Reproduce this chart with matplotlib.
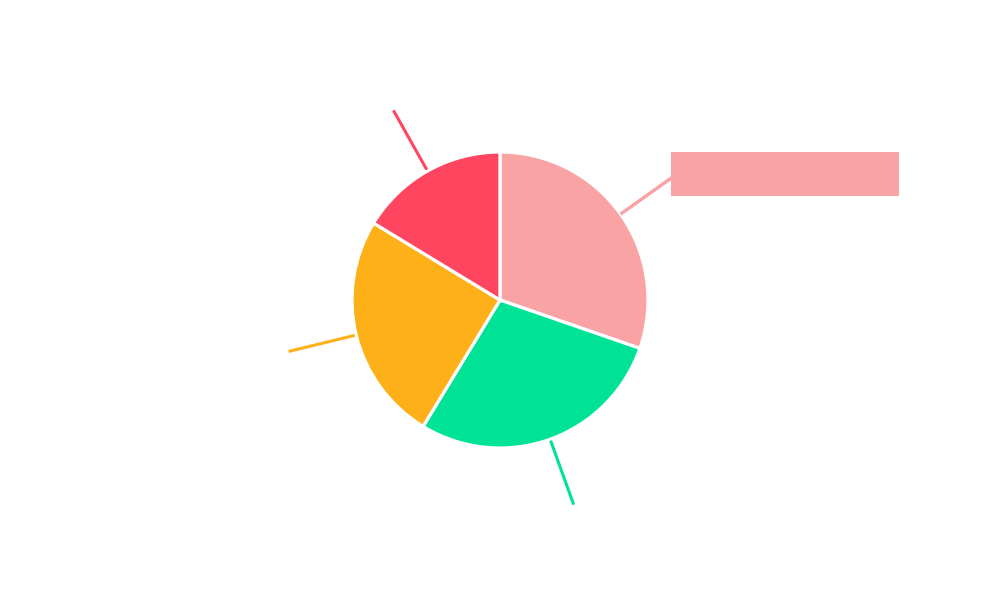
import numpy as np
import matplotlib.pyplot as plt
from matplotlib.patches import Rectangle

# slice shares (clockwise from 12 o'clock)
labels = ["A", "B", "C", "D"]
values = [30.3, 28.4, 25.0, 16.3]
colors = ["#F9A3A4", "#00E396", "#FEB019", "#FF4560"]

fig = plt.figure(figsize=(10, 6), dpi=100)
ax = fig.add_axes([0, 0, 1, 1])
R = 148.0  # radius in pixels
ax.set_xlim(-500 / R, 500 / R)
ax.set_ylim(-300 / R, 300 / R)
ax.set_aspect("equal")
ax.axis("off")

wedges, _ = ax.pie(values, colors=colors, startangle=90, counterclock=False,
                   radius=1.0, wedgeprops=dict(edgecolor="white", linewidth=2.3))
ax.set_xlim(-500 / R, 500 / R)
ax.set_ylim(-300 / R, 300 / R)

# radial leader lines from each slice middle
for w, c in zip(wedges, colors):
    mid = np.deg2rad((w.theta1 + w.theta2) / 2)
    x0, y0 = 1.01 * np.cos(mid), 1.01 * np.sin(mid)
    x1, y1 = 1.47 * np.cos(mid), 1.47 * np.sin(mid)
    ax.plot([x0, x1], [y0, y1], color=c, lw=2.2, solid_capstyle="butt")

# highlighted label box for the first slice (text empty in reference)
w = wedges[0]
mid = np.deg2rad((w.theta1 + w.theta2) / 2)
ex, ey = 1.42 * np.cos(mid), 1.42 * np.sin(mid)
ax.plot([1.01 * np.cos(mid), ex], [1.01 * np.sin(mid), ey], color=colors[0], lw=2.2)
bw, bh = 228 / R, 44 / R
ax.add_patch(Rectangle((ex, ey - bh / 2 + 4 / R), bw, bh, facecolor=colors[0],
                       edgecolor="none", zorder=3))

fig.savefig("out.png", dpi=100)
